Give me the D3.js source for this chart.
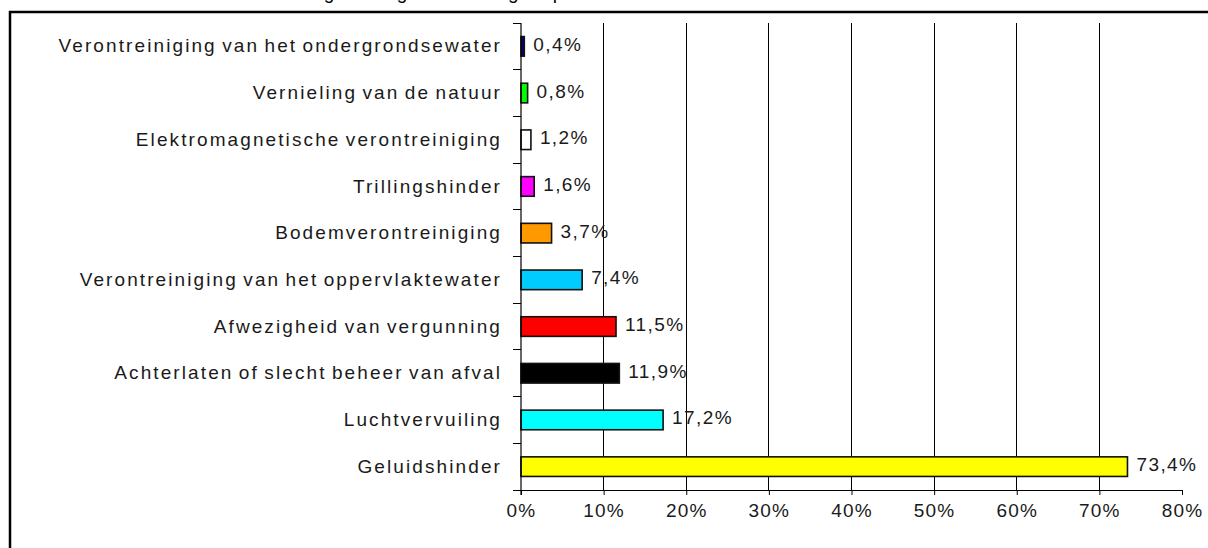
<!DOCTYPE html>
<html>
<head>
<meta charset="utf-8">
<script src="https://cdn.jsdelivr.net/npm/d3@7"></script>
<style>
  html, body { margin: 0; padding: 0; background: #fff; }
  svg { display: block; font-family: "Liberation Sans", Arial, sans-serif; }
  .cat text { font-size: 19px; letter-spacing: 2.1px; word-spacing: -2px; fill: #1a1a1a; }
  .val { font-size: 19px; letter-spacing: 1.4px; fill: #1a1a1a; }
  .xax text { font-size: 19px; letter-spacing: 1.2px; fill: #1a1a1a; }
</style>
</head>
<body>
<script>
// complaint categories, top to bottom as in the chart
const categories = [
  'Verontreiniging van het ondergrondsewater',
  'Vernieling van de natuur',
  'Elektromagnetische verontreiniging',
  'Trillingshinder',
  'Bodemverontreiniging',
  'Verontreiniging van het oppervlaktewater',
  'Afwezigheid van vergunning',
  'Achterlaten of slecht beheer van afval',
  'Luchtvervuiling',
  'Geluidshinder'
];
const shares = [0.4, 0.8, 1.2, 1.6, 3.7, 7.4, 11.5, 11.9, 17.2, 73.4];
const barColors = ['#000080', '#00ff00', '#ffffff', '#ff00ff', '#ff9900',
                   '#00ccff', '#ff0000', '#000000', '#00ffff', '#ffff00'];
const xTicks = [0, 10, 20, 30, 40, 50, 60, 70, 80];
const gridTicks = [10, 20, 30, 40, 50, 60, 70];

const W = 1208, H = 548;
const plot = { left: 521, right: 1182, top: 23, bottom: 490 };

const fmt = v => String(v).replace('.', ',') + '%';

const svg = d3.select('body').append('svg')
  .attr('width', W).attr('height', H);

// outer frame (runs off the right and bottom edge)
svg.append('rect')
  .attr('x', 10).attr('y', 12)
  .attr('width', W + 20).attr('height', H + 20)
  .attr('fill', 'none').attr('stroke', '#000').attr('stroke-width', 2.5);

// title cut off at the top, only descenders show
svg.append('text')
  .attr('x', 462).attr('y', -1)
  .attr('text-anchor', 'middle')
  .style('font-size', '19px').style('letter-spacing', '1.7px')
  .text('Aantal meldingen volgens hoofdgroep van milieuhinder');

const x = d3.scaleLinear().domain([0, 80]).range([plot.left, plot.right]);
const y = d3.scaleBand().domain(categories)
  .range([plot.top, plot.bottom])
  .paddingInner(0.58).paddingOuter(0.29);
const half = (y.step() - y.bandwidth()) / 2;

// vertical gridlines
svg.append('g').selectAll('line').data(gridTicks).join('line')
  .attr('x1', d => x(d)).attr('x2', d => x(d))
  .attr('y1', plot.top).attr('y2', plot.bottom)
  .attr('stroke', '#000').attr('stroke-width', 1)
  .attr('shape-rendering', 'crispEdges');

// bars
svg.append('g').selectAll('rect').data(shares).join('rect')
  .attr('x', x(0))
  .attr('y', (d, i) => y(categories[i]))
  .attr('width', d => x(d) - x(0))
  .attr('height', y.bandwidth())
  .attr('fill', (d, i) => barColors[i])
  .attr('stroke', '#111').attr('stroke-width', 1.6);

// value labels
svg.append('g').selectAll('text').data(shares).join('text')
  .attr('class', 'val')
  .attr('x', d => x(d) + 9)
  .attr('y', (d, i) => y(categories[i]) + y.bandwidth() / 2 - 2)
  .attr('dominant-baseline', 'central')
  .text(fmt);

// x axis
const xAxis = svg.append('g').attr('class', 'xax')
  .attr('transform', `translate(0,${plot.bottom})`)
  .call(d3.axisBottom(x).tickValues(xTicks).tickFormat(d => d + '%')
    .tickSize(5).tickSizeOuter(0).tickPadding(9));
xAxis.select('.domain').attr('stroke', '#000').attr('stroke-width', 1.2);
xAxis.selectAll('line').attr('stroke', '#000');
xAxis.attr('font-family', null).attr('font-size', null);

// y axis line and boundary ticks
const boundaries = categories.map(c => y(c) - half).concat([plot.bottom]);
svg.append('line')
  .attr('x1', x(0)).attr('x2', x(0))
  .attr('y1', plot.top).attr('y2', plot.bottom + 5)
  .attr('stroke', '#000').attr('stroke-width', 1.2);
svg.append('g').selectAll('line').data(boundaries).join('line')
  .attr('x1', x(0) - 8).attr('x2', x(0))
  .attr('y1', d => d).attr('y2', d => d)
  .attr('stroke', '#000').attr('stroke-width', 1)
  .attr('shape-rendering', 'crispEdges');

// category labels
const yAxis = svg.append('g').attr('class', 'cat')
  .attr('transform', `translate(${x(0)},0)`)
  .call(d3.axisLeft(y).tickSize(0).tickPadding(19));
yAxis.select('.domain').remove();
yAxis.attr('font-family', null).attr('font-size', null);
</script>
</body>
</html>
